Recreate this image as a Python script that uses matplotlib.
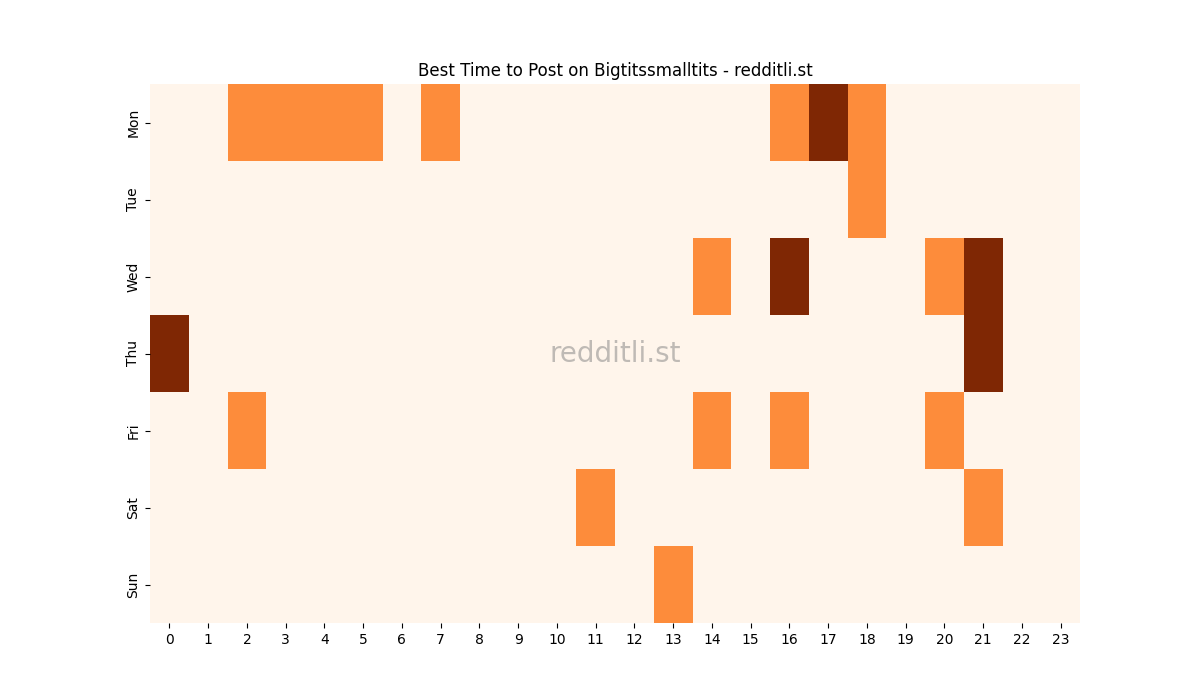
import matplotlib
matplotlib.use('Agg')
import matplotlib.pyplot as plt
import seaborn as sns
import numpy as np

days = ['Mon', 'Tue', 'Wed', 'Thu', 'Fri', 'Sat', 'Sun']
hours = list(range(24))

# score per day/hour: 0 = none, 1 = good, 2 = best
mon = [0, 0, 1, 1, 1, 1, 0, 1, 0, 0, 0, 0, 0, 0, 0, 0, 1, 2, 1, 0, 0, 0, 0, 0]
tue = [0, 0, 0, 0, 0, 0, 0, 0, 0, 0, 0, 0, 0, 0, 0, 0, 0, 0, 1, 0, 0, 0, 0, 0]
wed = [0, 0, 0, 0, 0, 0, 0, 0, 0, 0, 0, 0, 0, 0, 1, 0, 2, 0, 0, 0, 1, 2, 0, 0]
thu = [2, 0, 0, 0, 0, 0, 0, 0, 0, 0, 0, 0, 0, 0, 0, 0, 0, 0, 0, 0, 0, 2, 0, 0]
fri = [0, 0, 1, 0, 0, 0, 0, 0, 0, 0, 0, 0, 0, 0, 1, 0, 1, 0, 0, 0, 1, 0, 0, 0]
sat = [0, 0, 0, 0, 0, 0, 0, 0, 0, 0, 0, 1, 0, 0, 0, 0, 0, 0, 0, 0, 0, 1, 0, 0]
sun = [0, 0, 0, 0, 0, 0, 0, 0, 0, 0, 0, 0, 0, 1, 0, 0, 0, 0, 0, 0, 0, 0, 0, 0]

grid = np.array([mon, tue, wed, thu, fri, sat, sun])

fig = plt.figure(figsize=(12, 7))
ax = sns.heatmap(grid, cmap='Oranges', cbar=False, xticklabels=hours, yticklabels=days)
ax.set_yticklabels(days, rotation=90, va='center')
ax.set_xticklabels(hours, rotation=0)
ax.set_title('Best Time to Post on Bigtitssmalltits - redditli.st')
ax.text(0.5, 0.5, 'redditli.st', transform=ax.transAxes, ha='center', va='center',
        fontsize=20, color='gray', alpha=0.5)

plt.savefig('out.png')
